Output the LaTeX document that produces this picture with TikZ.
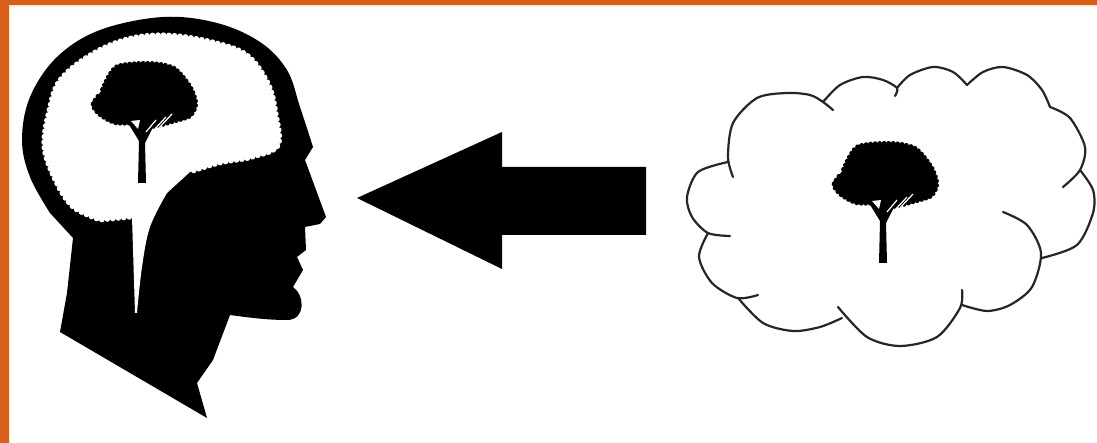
\documentclass[tikz,border=0pt]{standalone}
\usepackage{xcolor}
\usetikzlibrary{decorations.pathmorphing}
\definecolor{frameorange}{HTML}{D8601A}
\begin{document}
\begin{tikzpicture}[
  x=1pt, y=-1pt,
  silhouette/.style={fill=black, draw=none},
  cutout/.style={fill=white, draw=none},
  cloudline/.style={draw=black!85, line width=2.2pt, line cap=round},
  crownbumps/.style={decorate, decoration={bumps, segment length=9pt, amplitude=2pt}},
  tree/.pic={
    \fill[silhouette, crownbumps] plot[smooth cycle] coordinates {(-49,-78) (-41,-92) (-26,-116) (7,-120) (32,-115) (48,-97) (54,-80) (48,-67) (27,-60) (3,-54) (-7,-59) (-27,-60) (-42,-68)};
    \fill[silhouette] (-4,0) -- (4,0) -- (3,-40) -- (12,-58) -- (-14,-60) -- (-3,-42) -- cycle;
    \fill[cutout] (-11,-62) -- (-2,-63) -- (-4,-54) -- cycle;
    \draw[white, line width=1.2pt] (4,-51) -- (14,-63) (9,-50) -- (24,-66) (15,-53) -- (30,-69);
  }
]
\useasboundingbox (0,0) rectangle (1097,443);
\fill[frameorange] (0,0) rectangle (1097,5);
\fill[frameorange] (0,0) rectangle (9,443);
% head
\fill[silhouette] (60,332) -- (67,293) -- (73,238)
  -- plot[smooth, tension=0.6] coordinates {(50,213) (30,177) (22,140) (30,97) (57,57) (100,30) (163,17) (217,23) (260,42) (287,70) (300,107) (313,147)}
  -- (305,160) -- (326,217) -- (320,224) -- (305,227) -- (306,250) -- (297,257) -- (303,270) -- (293,287)
  .. controls (305,295) and (306,320) .. (287,320)
  .. controls (265,320) and (245,317) .. (230,315)
  -- (213,360) -- (197,383) -- (207,418) -- cycle;
% brain
\fill[cutout] (135,313) -- (132,217)
  decorate[decoration={bumps, segment length=11pt, amplitude=2.5pt}] {
    -- plot[smooth, tension=0.6] coordinates {(100,220) (73,207) (55,180) (44,147) (49,110) (60,80) (90,55) (127,39) (167,35) (213,42) (247,55) (268,83) (276,113) (278,145) (253,157) (220,163) (190,172)}
  }
  -- plot[smooth, tension=0.6] coordinates {(167,193) (150,227) (142,267) (137,313)} -- cycle;
\pic at (142,183) {tree};
% arrow
\fill[silhouette] (357,198) -- (502,132) -- (502,167) -- (646,167) -- (646,235) -- (502,235) -- (502,269) -- cycle;
% cloud
\draw[cloudline] plot[smooth] coordinates {(733,177) (728,157) (733,123) (757,98) (787,93) (810,95) (823,102) (833,110)};
\draw[cloudline] plot[smooth] coordinates {(823,102) (840,85) (863,77) (883,80) (897,88) (895,96)};
\draw[cloudline] plot[smooth] coordinates {(897,88) (910,75) (933,67) (953,72) (967,85)};
\draw[cloudline] plot[smooth] coordinates {(967,85) (983,72) (1003,67) (1027,75) (1042,90) (1050,107)};
\draw[cloudline] plot[smooth] coordinates {(1050,107) (1070,118) (1085,147) (1080,170) (1063,187)};
\draw[cloudline] plot[smooth] coordinates {(1080,170) (1093,190) (1093,213) (1077,245) (1042,258)};
\draw[cloudline] plot[smooth] coordinates {(1003,212) (1027,225) (1041,253) (1032,287) (1010,305) (987,311) (962,305)};
\draw[cloudline] plot[smooth] coordinates {(962,290) (960,308) (937,337) (900,346) (867,337) (838,307)};
\draw[cloudline] plot[smooth] coordinates {(842,318) (820,327) (793,331) (763,323) (738,298)};
\draw[cloudline] plot[smooth] coordinates {(758,295) (737,298) (712,283) (699,257) (708,233)};
\draw[cloudline] plot[smooth] coordinates {(730,236) (708,233) (692,217) (687,197) (698,172) (728,162)};
\pic at (883,263) {tree};
\end{tikzpicture}
\end{document}
